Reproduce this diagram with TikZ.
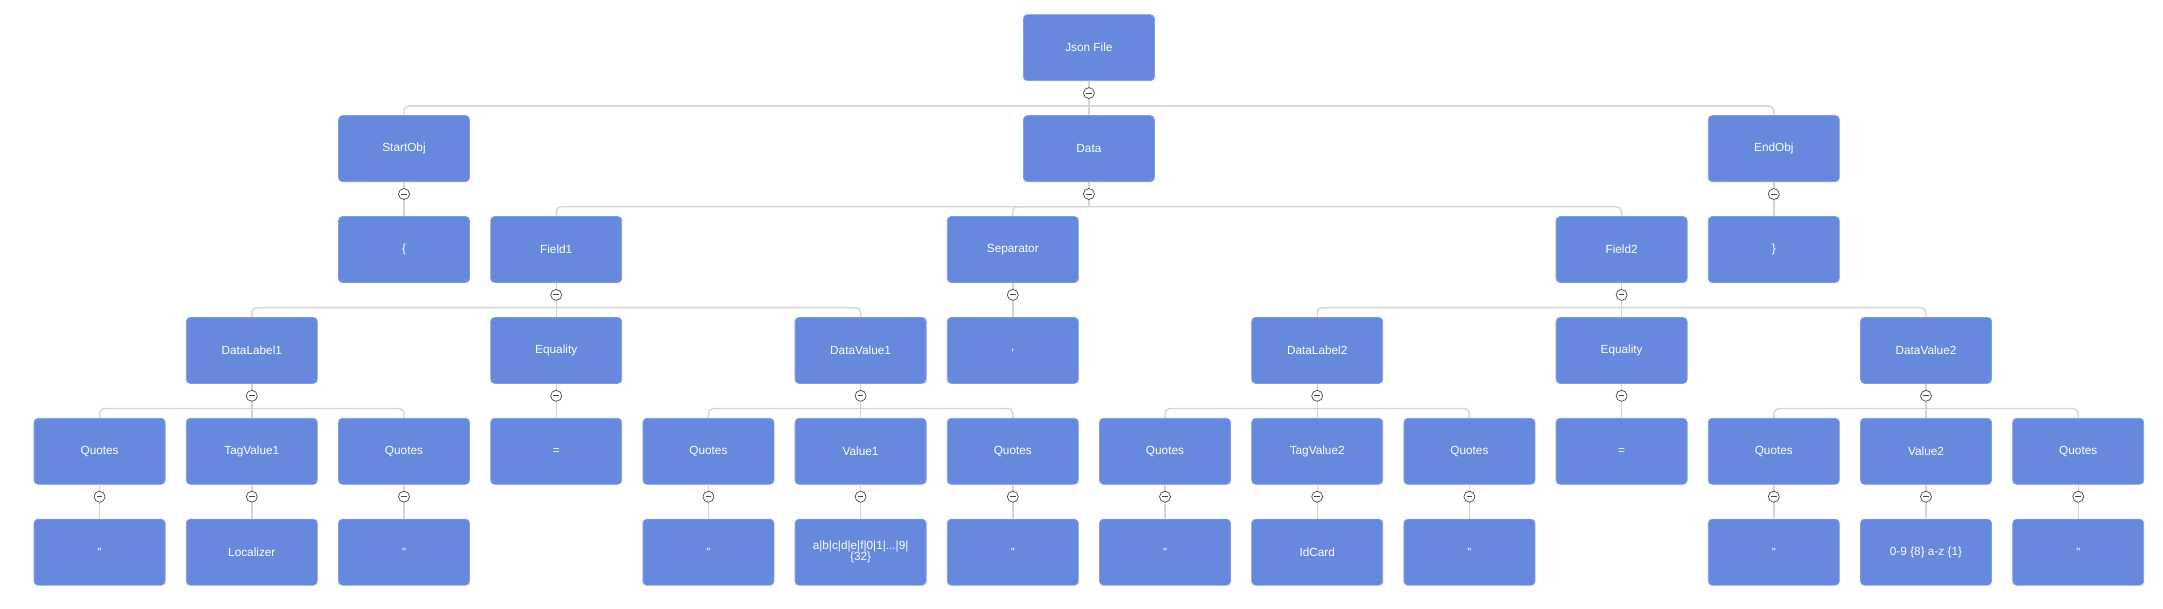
\documentclass[tikz,border=0pt]{standalone}
\usepackage{fontspec}
\setmainfont{Liberation Sans}
\definecolor{boxblue}{RGB}{102,137,222}
\definecolor{boxedge}{RGB}{128,156,228}
\definecolor{linegray}{RGB}{212,212,212}
\definecolor{knobgray}{RGB}{70,70,70}
\tikzset{
  box/.style={draw=boxedge, line width=0.8pt, fill=boxblue, rounded corners=4pt,
    minimum width=131pt, minimum height=66pt, inner sep=2pt, text=white,
    align=center, font=\fontsize{11.8}{13}\selectfont},
  conn/.style={draw=linegray, line width=1.4pt, rounded corners=5pt},
  knob/.style={circle, draw=knobgray, fill=white, line width=0.7pt,
    minimum size=11pt, inner sep=0pt,
    path picture={\draw[knobgray, line width=0.9pt]
      ([xshift=-2.8pt]path picture bounding box.center) -- ([xshift=2.8pt]path picture bounding box.center);}}
}
\newcommand\cx[1]{99.6+152.2*#1}
\newcommand\fan[2]{\draw[conn] (#1.south) -- ([yshift=-24.7pt]#1.south);
  \foreach \ch in {#2}{\draw[conn] ([yshift=-24.7pt]#1.south) -| (\ch.north);}}
\newcommand\drop[2]{\draw[conn] (#1.south) -- (#2.north);}
\newcommand\knobat[1]{\node[knob] (k#1) at ([yshift=-12pt]#1.south) {};}
\begin{document}
\begin{tikzpicture}[x=1pt,y=-1pt]
\useasboundingbox (0,0) rectangle (2163,608);
% row 0
\node[box] (json) at (1088.9,47.7) {Json File};
% row 1
\node[box] (start) at ({\cx{2}},148.6) {StartObj};
\node[box] (data) at (1088.9,148.6) {Data};
\node[box] (endo) at ({\cx{11}},148.6) {EndObj};
% row 2
\node[box] (lbr) at ({\cx{2}},249.5) {\{};
\node[box] (field1) at ({\cx{3}},249.5) {Field1};
\node[box] (sep) at ({\cx{6}},249.5) {Separator};
\node[box] (field2) at ({\cx{10}},249.5) {Field2};
\node[box] (rbr) at ({\cx{11}},249.5) {\}};
% row 3
\node[box] (dl1) at ({\cx{1}},350.4) {DataLabel1};
\node[box] (eq1) at ({\cx{3}},350.4) {Equality};
\node[box] (dv1) at ({\cx{5}},350.4) {DataValue1};
\node[box] (comma) at ({\cx{6}},350.4) {,};
\node[box] (dl2) at ({\cx{8}},350.4) {DataLabel2};
\node[box] (eq2) at ({\cx{10}},350.4) {Equality};
\node[box] (dv2) at ({\cx{12}},350.4) {DataValue2};
% row 4
\node[box] (qa) at ({\cx{0}},451.3) {Quotes};
\node[box] (tv1) at ({\cx{1}},451.3) {TagValue1};
\node[box] (qb) at ({\cx{2}},451.3) {Quotes};
\node[box] (eqs1) at ({\cx{3}},451.3) {=};
\node[box] (qc) at ({\cx{4}},451.3) {Quotes};
\node[box] (v1) at ({\cx{5}},451.3) {Value1};
\node[box] (qd) at ({\cx{6}},451.3) {Quotes};
\node[box] (qe) at ({\cx{7}},451.3) {Quotes};
\node[box] (tv2) at ({\cx{8}},451.3) {TagValue2};
\node[box] (qf) at ({\cx{9}},451.3) {Quotes};
\node[box] (eqs2) at ({\cx{10}},451.3) {=};
\node[box] (qg) at ({\cx{11}},451.3) {Quotes};
\node[box] (v2) at ({\cx{12}},451.3) {Value2};
\node[box] (qh) at ({\cx{13}},451.3) {Quotes};
% row 5
\node[box] (la) at ({\cx{0}},552.2) {"};
\node[box] (loc) at ({\cx{1}},552.2) {Localizer};
\node[box] (lb) at ({\cx{2}},552.2) {"};
\node[box] (lc) at ({\cx{4}},552.2) {"};
\node[box] (v1val) at ({\cx{5}},552.2) {a|b|c|d|e|f|0|1|...|9|\\[-2pt]\{32\}};
\node[box] (ld) at ({\cx{6}},552.2) {"};
\node[box] (le) at ({\cx{7}},552.2) {"};
\node[box] (idc) at ({\cx{8}},552.2) {IdCard};
\node[box] (lf) at ({\cx{9}},552.2) {"};
\node[box] (lg) at ({\cx{11}},552.2) {"};
\node[box] (v2val) at ({\cx{12}},552.2) {0-9 \{8\} a-z \{1\}};
\node[box] (lh) at ({\cx{13}},552.2) {"};
% connectors
\fan{json}{start,endo}
\drop{json}{data}
\drop{start}{lbr}
\drop{endo}{rbr}
\fan{data}{field1,sep,field2}
\fan{field1}{dl1,dv1}
\drop{field1}{eq1}
\drop{sep}{comma}
\fan{field2}{dl2,dv2}
\drop{field2}{eq2}
\fan{dl1}{qa,qb}
\drop{dl1}{tv1}
\drop{eq1}{eqs1}
\fan{dv1}{qc,qd}
\drop{dv1}{v1}
\fan{dl2}{qe,qf}
\drop{dl2}{tv2}
\drop{eq2}{eqs2}
\fan{dv2}{qg,qh}
\drop{dv2}{v2}
\drop{qa}{la}
\drop{tv1}{loc}
\drop{qb}{lb}
\drop{qc}{lc}
\drop{v1}{v1val}
\drop{qd}{ld}
\drop{qe}{le}
\drop{tv2}{idc}
\drop{qf}{lf}
\drop{qg}{lg}
\drop{v2}{v2val}
\drop{qh}{lh}
% knobs
\foreach \n in {json,start,data,endo,field1,sep,field2,dl1,eq1,dv1,dl2,eq2,dv2,qa,tv1,qb,qc,v1,qd,qe,tv2,qf,qg,v2,qh}{\knobat{\n}}
\end{tikzpicture}
\end{document}
